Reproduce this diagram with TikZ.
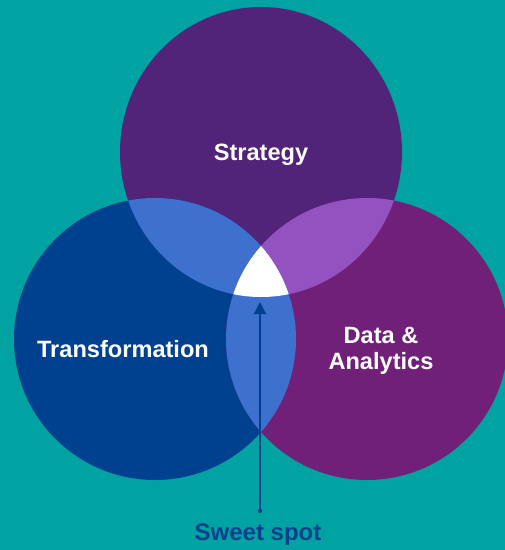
\documentclass[tikz,border=0pt]{standalone}
\usepackage{fontspec}
\setmainfont{Liberation Sans}
\usetikzlibrary{arrows.meta}

\definecolor{tealbg}{RGB}{0,163,161}
\definecolor{strategycol}{RGB}{81,35,121}
\definecolor{transcol}{RGB}{0,65,143}
\definecolor{datacol}{RGB}{112,32,120}
\definecolor{lightblue}{RGB}{62,112,205}
\definecolor{lightpurple}{RGB}{148,82,192}

\tikzset{
  circlabel/.style={text=white, font=\bfseries\fontsize{17.7}{19.5}\selectfont, align=center, inner sep=0.75pt},
}

\begin{document}
\begin{tikzpicture}[x=0.75pt,y=0.75pt,yscale=-1,xscale=1]
%set diagram to 505 x 550
\path [use as bounding box, fill=tealbg] (0,0) rectangle (505,550);

%Shape: Circle [Strategy]
\fill [strategycol] (261,152) ellipse (141 and 145);
%Shape: Circle [Transformation]
\fill [transcol] (155,339) circle (141);
%Shape: Circle [Data]
\fill [datacol] (367,339) circle (141);

%Overlaps with Strategy
\begin{scope}
\clip (261,152) ellipse (141 and 145);
\fill [lightblue] (155,339) circle (141);
\fill [lightpurple] (367,339) circle (141);
\end{scope}
%Overlap Transformation and Data
\begin{scope}
\clip (155,339) circle (141);
\fill [lightblue] (367,339) circle (141);
\end{scope}
%Sweet spot
\begin{scope}
\clip (261,152) ellipse (141 and 145);
\clip (155,339) circle (141);
\fill [white] (367,339) circle (141);
\end{scope}

% Text Node
\draw (261,155) node [circlabel] (strategy) {Strategy};
% Text Node
\draw (123,349) node [circlabel] (transformation) {Transformation};
% Text Node
\draw (381,351) node [circlabel] (data) {Data \&\\Analytics};
% Text Node
\draw (258,535) node [text=transcol, font=\bfseries\fontsize{18}{19.5}\selectfont, inner sep=0.75pt] (sweetspot) {Sweet spot};

% Connection
\coordinate (spotdot) at (260,511);
\coordinate (spottip) at (260,302);
\fill [transcol] (spotdot) circle (2.2);
\draw [transcol, line width=1pt, -{Triangle[length=9pt,width=9pt]}] (spotdot) -- (spottip);

\end{tikzpicture}
\end{document}
